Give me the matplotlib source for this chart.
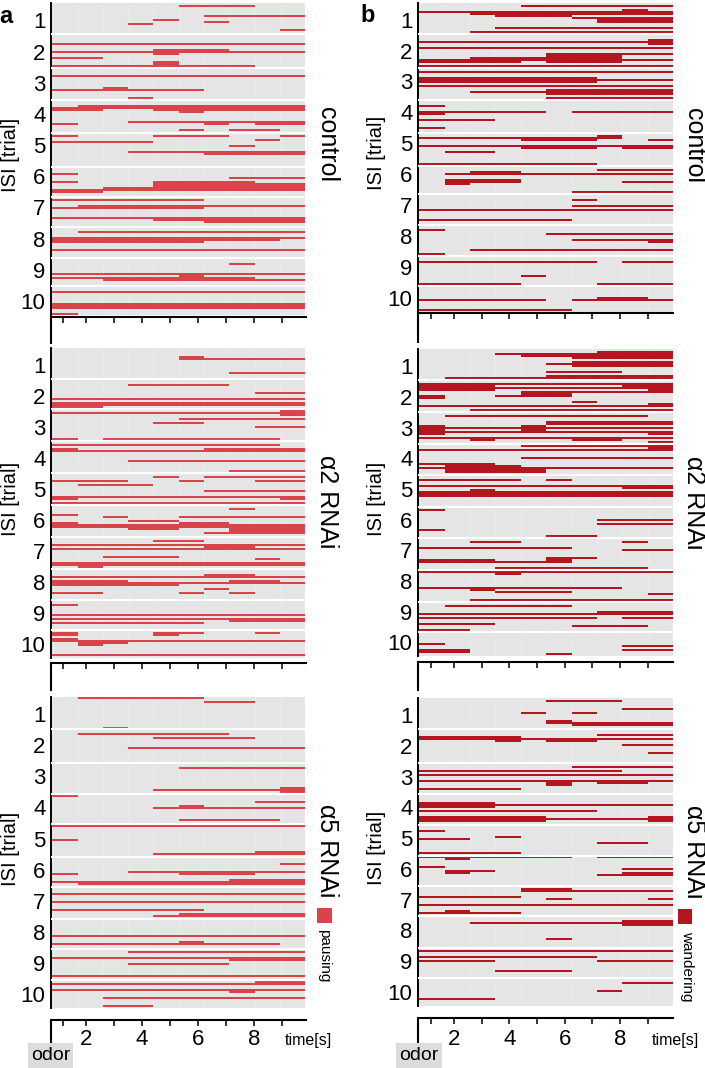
import matplotlib
matplotlib.use("Agg")
import matplotlib.pyplot as plt
from matplotlib.patches import Rectangle

plt.rcParams['font.family'] = ['Liberation Sans', 'DejaVu Sans']

W, H = 705, 1068
fig = plt.figure(figsize=(W / 100, H / 100), dpi=100)

# ---------------- data: (row, start_bin, end_bin) ----------------
control_pausing = [
    (1, 5, 8), (6, 6, 10), (8, 4, 5), (9, 6, 7), (10, 3, 4), (13, 9, 10),
    (20, 0, 10), (23, 4, 7), (24, 0, 10), (25, 4, 5), (27, 0, 2), (29, 4, 5), (30, 4, 5), (31, 0, 8),
    (36, 0, 10), (42, 2, 3), (43, 0, 6), (47, 3, 4),
    (51, 1, 10), (52, 0, 10), (53, 0, 2), (53, 4, 10), (54, 5, 6), (59, 3, 10), (60, 0, 1), (60, 6, 7),
    (60, 8, 10), (63, 5, 6), (63, 7, 9),
    (66, 0, 1), (66, 4, 7), (66, 9, 10), (68, 8, 9), (69, 0, 4), (71, 7, 8), (74, 3, 10), (75, 6, 10),
    (85, 0, 1), (87, 7, 10), (89, 0, 1), (89, 4, 8), (90, 4, 10), (91, 4, 10), (92, 2, 10), (93, 0, 10), (94, 0, 2),
    (98, 0, 6), (101, 1, 10), (102, 0, 6), (107, 0, 10), (108, 4, 10), (109, 6, 10),
    (114, 1, 10), (117, 0, 10), (118, 0, 9), (119, 0, 6), (123, 0, 10),
    (130, 7, 8), (135, 0, 10), (136, 5, 6), (137, 0, 8), (138, 2, 10),
    (144, 0, 10), (150, 0, 10), (151, 0, 10), (152, 0, 10), (155, 0, 1),
]
control_pausing_sep = [15.5, 32.5, 48.3, 65, 81.7, 97, 112.2, 127.5, 141.7]
control_pausing_rows = 156

control_wandering = [
    (1, 4, 10), (3, 8, 9), (4, 0, 10), (5, 2, 10), (6, 3, 6), (7, 6, 10), (8, 7, 10), (9, 7, 10), (12, 3, 10), (14, 2, 10),
    (18, 9, 10), (19, 0, 10), (20, 9, 10), (22, 0, 10), (25, 5, 10), (26, 5, 8), (27, 2, 8), (28, 0, 10),
    (29, 0, 4), (29, 5, 8), (31, 0, 10),
    (34, 0, 10), (37, 0, 7), (38, 0, 10), (39, 0, 7), (41, 0, 10), (43, 5, 10), (44, 2, 10), (45, 5, 10), (47, 5, 10),
    (51, 0, 1), (54, 0, 5), (54, 6, 10), (55, 0, 1), (58, 0, 3), (62, 0, 1),
    (66, 7, 8), (67, 0, 8), (68, 4, 7), (68, 9, 10), (71, 0, 10), (72, 4, 7), (72, 8, 10), (74, 1, 3), (80, 0, 7),
    (83, 7, 10), (84, 2, 4), (85, 1, 10), (88, 1, 4), (89, 1, 4), (89, 8, 10), (90, 1, 2), (94, 6, 10),
    (98, 6, 7), (101, 6, 10), (103, 0, 10), (108, 0, 6),
    (113, 0, 1), (115, 5, 10), (118, 6, 9), (118, 9, 10), (119, 9, 10), (123, 2, 10), (125, 0, 1),
    (129, 0, 7), (129, 8, 10), (136, 4, 5), (140, 0, 4), (140, 7, 10),
    (147, 7, 9), (148, 0, 5), (148, 6, 10), (153, 0, 6),
]
control_wandering_sep = [15.8, 32.5, 48.7, 65.3, 81.4, 95.7, 111.2, 126.7, 141.7]
control_wandering_rows = 154.5

a2_pausing = [
    (4, 5, 6), (5, 5, 10), (12, 7, 10),
    (18, 3, 7), (22, 8, 10), (25, 0, 10), (27, 0, 10), (28, 0, 10), (29, 0, 2),
    (31, 9, 10), (32, 0, 10), (33, 9, 10), (35, 5, 10), (37, 4, 6), (39, 8, 10), (45, 0, 1), (45, 2, 9),
    (48, 0, 9), (50, 0, 1), (50, 6, 10), (51, 0, 10), (56, 3, 10), (61, 7, 10),
    (64, 4, 5), (64, 6, 10), (66, 0, 3), (66, 5, 6), (66, 8, 10), (68, 1, 4), (71, 6, 10), (74, 0, 10),
    (75, 0, 1), (75, 9, 10), (77, 0, 10),
    (80, 7, 8), (83, 0, 1), (84, 2, 3), (84, 5, 10), (86, 3, 5), (87, 0, 1), (87, 5, 7), (88, 0, 10),
    (89, 0, 10), (90, 3, 5), (90, 7, 10), (91, 7, 10), (92, 6, 10),
    (96, 4, 6), (98, 0, 10), (99, 6, 8), (100, 0, 10), (104, 2, 5), (105, 8, 9), (107, 0, 10), (108, 0, 10), (109, 1, 2),
    (113, 6, 8), (114, 0, 10), (116, 0, 3), (116, 7, 9), (117, 0, 10), (118, 0, 5), (120, 6, 7),
    (122, 0, 2), (122, 5, 6), (122, 7, 8),
    (128, 0, 1), (133, 0, 10), (135, 0, 10), (136, 7, 10), (137, 0, 6),
    (142, 0, 1), (142, 4, 6), (142, 8, 9), (143, 0, 1), (143, 4, 5), (145, 0, 1), (146, 0, 10), (147, 1, 3),
    (148, 1, 2), (153, 0, 10),
]
a2_pausing_sep = [15.3, 30.4, 46.4, 62.5, 78.3, 94.5, 110.5, 125.8, 140.8]
a2_pausing_rows = 155

a2_wandering = [
    (1, 7, 10), (2, 3, 10), (3, 4, 10), (4, 6, 10), (6, 6, 10), (7, 5, 10), (8, 6, 10), (11, 5, 8), (13, 5, 10), (14, 1, 10),
    (17, 0, 10), (18, 0, 3), (18, 8, 10), (19, 0, 10), (20, 0, 3), (20, 9, 10), (21, 4, 10), (22, 4, 6),
    (23, 0, 1), (23, 3, 6), (24, 0, 1), (26, 6, 7), (27, 9, 10), (28, 0, 10), (30, 2, 10),
    (33, 1, 9), (36, 5, 10), (37, 5, 10), (38, 0, 1), (38, 4, 5), (39, 0, 10), (40, 0, 1), (40, 4, 5),
    (41, 0, 10), (42, 0, 1), (42, 9, 10), (44, 0, 10), (45, 2, 3), (45, 6, 8), (46, 9, 10),
    (48, 4, 10), (49, 9, 10), (50, 0, 10), (54, 4, 10), (57, 0, 3), (58, 1, 4), (59, 0, 10), (60, 1, 5), (61, 1, 5),
    (65, 0, 4), (65, 5, 6), (68, 0, 10), (69, 8, 10), (70, 2, 3), (71, 0, 10), (72, 0, 10), (73, 0, 10),
    (80, 0, 1), (85, 7, 10), (87, 7, 10), (90, 0, 1), (93, 5, 7),
    (96, 2, 4), (96, 8, 9), (99, 0, 6), (100, 8, 10), (104, 5, 7), (105, 0, 3), (105, 5, 6), (106, 0, 6), (109, 3, 9),
    (111, 0, 10), (112, 3, 4), (119, 0, 8), (120, 2, 3), (121, 3, 6), (122, 9, 10), (125, 2, 10),
    (128, 1, 6), (131, 7, 10), (132, 0, 10), (134, 0, 7), (134, 8, 10), (137, 0, 3), (138, 6, 9), (140, 0, 2),
    (147, 0, 1), (148, 8, 10), (150, 0, 2), (150, 8, 10), (151, 0, 2), (152, 5, 6),
]
a2_wandering_sep = [15.3, 31.2, 47.2, 62.8, 78.7, 94.3, 110.2, 126.2, 141.2]
a2_wandering_rows = 153.3

a5_pausing = [
    (0, 1, 6), (2, 6, 8), (15, 2, 3),
    (18, 1, 7), (20, 4, 8), (25, 3, 10),
    (35, 5, 10), (45, 9, 10), (46, 4, 10), (47, 9, 10),
    (49, 0, 1), (52, 8, 10), (54, 5, 6), (55, 4, 10), (61, 5, 9),
    (64, 0, 10), (71, 0, 1), (77, 8, 10), (78, 4, 10),
    (83, 9, 10), (87, 3, 10), (88, 0, 1), (88, 5, 8), (91, 7, 10), (92, 0, 10), (93, 1, 10),
    (98, 0, 10), (102, 0, 10), (106, 0, 6), (108, 5, 10), (109, 4, 10),
    (119, 0, 10), (122, 5, 6), (123, 0, 9),
    (127, 3, 10), (130, 0, 10), (131, 7, 10), (133, 3, 7), (139, 0, 10),
    (142, 8, 10), (143, 0, 10), (146, 0, 10), (147, 7, 8), (150, 2, 10), (154, 2, 4),
]
a5_pausing_sep = [16, 33, 48.3, 63.5, 79.7, 94.8, 110.8, 125.8, 141.3]
a5_pausing_rows = 155.2

a5_wandering = [
    (1, 5, 8), (5, 8, 10), (7, 4, 5), (7, 6, 7), (11, 5, 6), (12, 5, 10), (13, 6, 10),
    (18, 7, 10), (19, 0, 4), (20, 0, 10), (21, 3, 4), (21, 5, 7), (23, 8, 10), (27, 9, 10),
    (34, 6, 10), (36, 0, 8), (38, 0, 10), (41, 0, 10), (42, 5, 6), (42, 7, 9), (43, 5, 6), (45, 0, 4),
    (52, 0, 3), (53, 0, 10), (54, 0, 3), (56, 0, 7), (59, 0, 5), (59, 9, 10), (60, 0, 10), (61, 0, 5), (61, 9, 10),
    (66, 0, 1), (69, 3, 4), (70, 0, 2), (72, 7, 9), (77, 0, 4),
    (79, 0, 6), (79, 7, 10), (80, 1, 2), (84, 0, 1), (85, 8, 10), (86, 1, 3), (87, 1, 2), (87, 8, 10), (88, 7, 10),
    (95, 4, 6), (96, 4, 10), (99, 0, 4), (100, 5, 6), (100, 9, 10), (103, 0, 10), (106, 1, 2), (107, 0, 4),
    (111, 8, 10), (112, 2, 10), (113, 8, 10), (120, 5, 6),
    (126, 0, 10), (129, 0, 7), (131, 0, 3), (131, 7, 10), (136, 3, 6),
    (142, 8, 10), (146, 7, 8), (150, 0, 3),
]
a5_wandering_sep = [15.5, 32.2, 47.8, 63.3, 78.7, 93.8, 109, 124.7, 140]
a5_wandering_rows = 153.7

isi_labels = ["1", "2", "3", "4", "5", "6", "7", "8", "9", "10"]
group_names = ["control", "α2 RNAi", "α5 RNAi"]
time_ticks = [1.17, 2, 3, 4, 5, 6, 7, 8, 9]
time_labels = [2, 4, 6, 8]
n_bins = 10

PAUSE_COLOR = '#d9444b'
WANDER_COLOR = '#b3161e'
BG = '#e5e5e5'


def fx(x):
    return x / W


def fy(y):
    return 1 - y / H


def add_axes_px(left, top, right, bottom):
    return fig.add_axes([fx(left), fy(bottom), (right - left) / W, (bottom - top) / H])


def draw_panel(rect, segs, seps, nrows, color):
    ax = add_axes_px(*rect)
    ax.set_facecolor(BG)
    ax.set_xlim(-0.05, n_bins)
    ax.set_ylim(nrows, 0)
    for b in range(1, n_bins):
        ax.axvline(b, color='#ececec', lw=0.6, zorder=1)
    for (r, s, e) in segs:
        ax.barh(r + 0.5, e - s, left=s, height=1.0, color=color, linewidth=0, zorder=2)
    for s in seps:
        ax.axhline(s, color='white', lw=1.5, zorder=3)
    for side in ['top', 'right', 'bottom']:
        ax.spines[side].set_visible(False)
    ax.spines['left'].set_linewidth(1.4)
    ax.spines['left'].set_color('black')
    ax.set_xticks([])
    ax.set_yticks([(k + 0.55) * nrows / 10 for k in range(10)])
    ax.set_yticklabels(isi_labels, fontsize=16)
    ax.tick_params(axis='y', length=0, pad=4)
    return ax


def draw_time_axis(left, top, right, bottom, xlim, labels):
    ax = add_axes_px(left, top, right, bottom)
    ax.set_facecolor('none')
    ax.set_xlim(*xlim)
    ax.set_ylim(0, 1)
    for side in ['right', 'bottom']:
        ax.spines[side].set_visible(False)
    for side in ['top', 'left']:
        ax.spines[side].set_linewidth(1.5)
    ax.xaxis.set_ticks_position('top')
    ax.set_xticks(time_ticks)
    ax.set_xticklabels([])
    ax.tick_params(axis='x', direction='in', length=4.5, width=1.1)
    ax.set_yticks([])
    if labels:
        for t in time_labels:
            ax.text(t, 0.12, str(t), fontsize=16, ha='center', va='center',
                    transform=ax.get_xaxis_transform())
    return ax


panels_a = [
    ((51, 3.3, 305.3, 315), control_pausing, control_pausing_sep, control_pausing_rows),
    ((51, 348.3, 305.3, 658.3), a2_pausing, a2_pausing_sep, a2_pausing_rows),
    ((51, 697.3, 305.3, 1007.7), a5_pausing, a5_pausing_sep, a5_pausing_rows),
]
panels_b = [
    ((418, 2.7, 673.3, 311.7), control_wandering, control_wandering_sep, control_wandering_rows),
    ((418, 349.3, 673.3, 656), a2_wandering, a2_wandering_sep, a2_wandering_rows),
    ((418, 698.3, 673.3, 1005.7), a5_wandering, a5_wandering_sep, a5_wandering_rows),
]

for rect, segs, seps, n in panels_a:
    draw_panel(rect, segs, seps, n, PAUSE_COLOR)
for rect, segs, seps, n in panels_b:
    draw_panel(rect, segs, seps, n, WANDER_COLOR)

# time axes
draw_time_axis(50.7, 317.3, 306, 343, (0.74, 9.86), False)
draw_time_axis(50.7, 662.7, 306, 690, (0.74, 9.86), False)
draw_time_axis(50.7, 1020, 306, 1042, (0.74, 9.86), True)
draw_time_axis(418.3, 313.3, 673.3, 342, (0.71, 9.92), False)
draw_time_axis(418.3, 661.7, 673.3, 690, (0.71, 9.92), False)
draw_time_axis(418.3, 1018.3, 673.3, 1042, (0.71, 9.92), True)

# y labels and right-hand group labels
for i, (rect, *_r) in enumerate(panels_a):
    cy = (rect[1] + rect[3]) / 2
    fig.text(fx(11), fy(cy - 4), "ISI [trial]", rotation=90, fontsize=14.5, ha='center', va='center')
    fig.text(fx(327), fy(cy - (15 if i == 0 else 2)), group_names[i], rotation=270, fontsize=18,
             ha='center', va='center')
for i, (rect, *_r) in enumerate(panels_b):
    cy = (rect[1] + rect[3]) / 2
    fig.text(fx(377), fy(cy - 4), "ISI [trial]", rotation=90, fontsize=14.5, ha='center', va='center')
    fig.text(fx(694), fy(cy - (12 if i == 0 else 0)), group_names[i], rotation=270, fontsize=18,
             ha='center', va='center')

# panel letters
fig.text(fx(6), fy(16.5), "a", fontsize=17, fontweight='bold', ha='center', va='center')
fig.text(fx(367.5), fy(15.5), "b", fontsize=17, fontweight='bold', ha='center', va='center')

# legends
fig.patches.append(Rectangle((fx(317), fy(923)), 15 / W, 15 / H, transform=fig.transFigure,
                             facecolor=PAUSE_COLOR, edgecolor='none'))
fig.text(fx(324), fy(929), "pausing", rotation=270, fontsize=11, ha='center', va='top')
fig.patches.append(Rectangle((fx(678), fy(924)), 14 / W, 15 / H, transform=fig.transFigure,
                             facecolor=WANDER_COLOR, edgecolor='none'))
fig.text(fx(687), fy(931), "wandering", rotation=270, fontsize=11, ha='center', va='top')

# odor boxes and time labels
for (x0, x1) in [(28.3, 73.3), (396, 441.7)]:
    fig.patches.append(Rectangle((fx(x0), fy(1068)), (x1 - x0) / W, (1068 - 1042.7) / H,
                                 transform=fig.transFigure, facecolor='#dcdcdc', edgecolor='none'))
    fig.text(fx((x0 + x1) / 2), fy(1055.5), "odor", fontsize=14, ha='center', va='center')
fig.text(fx(308.5), fy(1040), "time[s]", fontsize=11.5, ha='center', va='center')
fig.text(fx(675.5), fy(1040), "time[s]", fontsize=11.5, ha='center', va='center')

fig.savefig("out.png", dpi=100)
